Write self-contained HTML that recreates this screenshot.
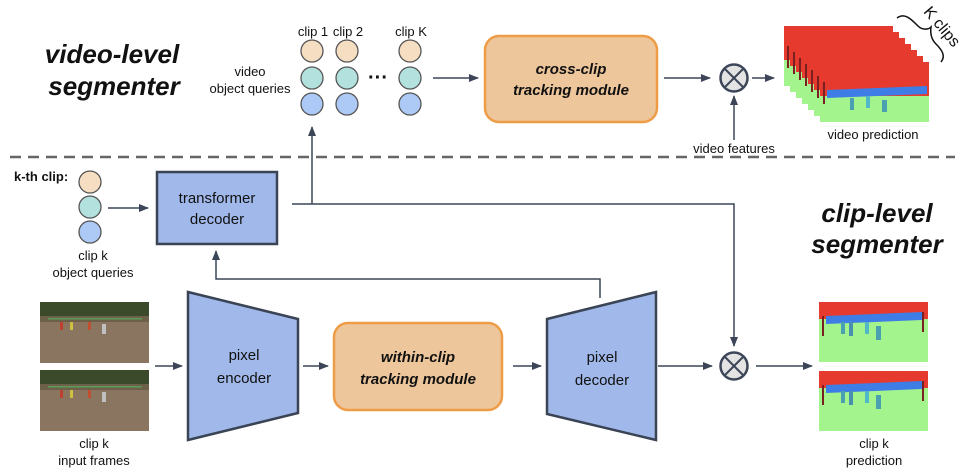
<!DOCTYPE html>
<html><head><meta charset="utf-8"><style>
html,body{margin:0;padding:0;background:#fff}
svg{display:block}
text{font-family:"Liberation Sans",sans-serif;fill:#111}
</style></head><body>
<svg width="970" height="476" viewBox="0 0 970 476" xmlns="http://www.w3.org/2000/svg">
<defs>
<marker id="a" markerWidth="10" markerHeight="8" refX="9" refY="4" orient="auto" markerUnits="userSpaceOnUse"><path d="M0,0 L10,4 L0,8 Z" fill="#3c4658"/></marker>
<g id="pred">
<rect x="0" y="0" width="109" height="60" fill="#a4f48e"/>
<rect x="0" y="0" width="109" height="17" fill="#e63a2e"/>
<path d="M7,14 L103,10 L103,18 L7,22 Z" fill="#3f7de6"/>
<rect x="3" y="14" width="2" height="20" fill="#7a2020"/>
<rect x="103" y="10" width="2" height="20" fill="#7a2020"/>
<rect x="22" y="20" width="4" height="12" fill="#4aa0b0"/>
<rect x="30" y="20" width="4" height="14" fill="#4a8fb0"/>
<rect x="46" y="20" width="4" height="12" fill="#50b8c8"/>
<rect x="57" y="24" width="5" height="14" fill="#4aa0b0"/>
</g>
<g id="vpred">
<rect x="0" y="0" width="109" height="60" fill="#a4f48e"/>
<rect x="0" y="0" width="109" height="34" fill="#e63a2e"/>
<path d="M7,28 L107,24 L107,32 L7,36 Z" fill="#3f7de6"/>
<rect x="3" y="20" width="2" height="22" fill="#7a2020"/>
<rect x="30" y="36" width="4" height="12" fill="#4aa0b0"/>
<rect x="46" y="34" width="4" height="12" fill="#50b8c8"/>
<rect x="62" y="38" width="5" height="12" fill="#4aa0b0"/>
</g>
<g id="photo">
<rect x="0" y="0" width="109" height="61" fill="#8a7560"/>
<rect x="0" y="0" width="109" height="14" fill="#3a4a2a"/>
<rect x="0" y="14" width="109" height="6" fill="#6d6048"/>
<rect x="8" y="16" width="94" height="1.5" fill="#5a9a5a"/>
<rect x="20" y="20" width="3" height="8" fill="#c04030"/>
<rect x="30" y="20" width="3" height="8" fill="#d0c040"/>
<rect x="48" y="20" width="3" height="8" fill="#c05030"/>
<rect x="62" y="22" width="4" height="10" fill="#c0c0c0"/>
</g>
</defs>

<text x="112" y="63" font-size="26" font-weight="bold" font-style="italic" text-anchor="middle">video-level</text>
<text x="114" y="95" font-size="26" font-weight="bold" font-style="italic" text-anchor="middle">segmenter</text>
<text x="877" y="222" font-size="26" font-weight="bold" font-style="italic" text-anchor="middle">clip-level</text>
<text x="877" y="253" font-size="26" font-weight="bold" font-style="italic" text-anchor="middle">segmenter</text>

<text x="250" y="76" font-size="13" text-anchor="middle">video</text>
<text x="250" y="93" font-size="13" text-anchor="middle">object queries</text>
<text x="313" y="36" font-size="13" text-anchor="middle">clip 1</text>
<text x="348" y="36" font-size="13" text-anchor="middle">clip 2</text>
<text x="411" y="36" font-size="13" text-anchor="middle">clip K</text>
<g stroke="#555" stroke-width="1.3">
<circle cx="312" cy="51" r="11" fill="#f6dec2"/><circle cx="312" cy="78" r="11" fill="#b3e2de"/><circle cx="312" cy="104" r="11" fill="#adc9f5"/>
<circle cx="347" cy="51" r="11" fill="#f6dec2"/><circle cx="347" cy="78" r="11" fill="#b3e2de"/><circle cx="347" cy="104" r="11" fill="#adc9f5"/>
<circle cx="410" cy="51" r="11" fill="#f6dec2"/><circle cx="410" cy="78" r="11" fill="#b3e2de"/><circle cx="410" cy="104" r="11" fill="#adc9f5"/>
</g>
<text x="378" y="84" font-size="20" font-weight="bold" text-anchor="middle">···</text>

<rect x="485" y="36" width="172" height="86" rx="14" fill="#edc69b" stroke="#ef9c47" stroke-width="2.5"/>
<text x="571" y="74" font-size="15" font-weight="bold" font-style="italic" text-anchor="middle">cross-clip</text>
<text x="571" y="95" font-size="15" font-weight="bold" font-style="italic" text-anchor="middle">tracking module</text>

<g stroke="#3c4658" stroke-width="1.5" fill="none">
<line x1="433" y1="78" x2="478" y2="78" marker-end="url(#a)"/>
<line x1="664" y1="78" x2="710" y2="78" marker-end="url(#a)"/>
<line x1="752" y1="78" x2="774" y2="78" marker-end="url(#a)"/>
<line x1="734" y1="140" x2="734" y2="96" marker-end="url(#a)"/>
</g>
<circle cx="734" cy="78" r="13.5" fill="#e3e3e3" stroke="#3c4658" stroke-width="2.5"/>
<path d="M724.5,68.5 L743.5,87.5 M743.5,68.5 L724.5,87.5" stroke="#3c4658" stroke-width="2"/>
<text x="734" y="153" font-size="13" text-anchor="middle">video features</text>

<use href="#vpred" x="784" y="26"/>
<use href="#vpred" x="790" y="32"/>
<use href="#vpred" x="796" y="38"/>
<use href="#vpred" x="802" y="44"/>
<use href="#vpred" x="808" y="50"/>
<use href="#vpred" x="814" y="56"/>
<use href="#vpred" x="820" y="62"/>
<text x="873" y="139" font-size="13" text-anchor="middle">video prediction</text>
<path d="M897,18 C905,12 912,20 918,26 C922,30 928,30 931,27 C930,34 932,40 936,44 C942,50 946,56 941,62" stroke="#111" stroke-width="1.5" fill="none"/>
<text x="938" y="30" font-size="16" text-anchor="middle" transform="rotate(50 938 30)">K clips</text>

<line x1="10" y1="157" x2="955" y2="157" stroke="#666" stroke-width="2.5" stroke-dasharray="11,7"/>

<text x="14" y="181" font-size="13" font-weight="bold">k-th clip:</text>
<g stroke="#555" stroke-width="1.3">
<circle cx="90" cy="182" r="11" fill="#f6dec2"/><circle cx="90" cy="207" r="11" fill="#b3e2de"/><circle cx="90" cy="232" r="11" fill="#adc9f5"/>
</g>
<text x="93" y="260" font-size="13" text-anchor="middle">clip k</text>
<text x="93" y="277" font-size="13" text-anchor="middle">object queries</text>

<rect x="157" y="172" width="120" height="72" fill="#a0b8ea" stroke="#3a4455" stroke-width="2.5"/>
<text x="217" y="203" font-size="15" text-anchor="middle">transformer</text>
<text x="217" y="224" font-size="15" text-anchor="middle">decoder</text>

<g stroke="#3c4658" stroke-width="1.5" fill="none">
<line x1="108" y1="208" x2="148" y2="208" marker-end="url(#a)"/>
<polyline points="292,204 734,204 734,346" marker-end="url(#a)"/>
<line x1="312" y1="204" x2="312" y2="127" marker-end="url(#a)"/>
<polyline points="600,298 600,279 216,279 216,251" marker-end="url(#a)"/>
<line x1="155" y1="366" x2="182" y2="366" marker-end="url(#a)"/>
<line x1="303" y1="366" x2="328" y2="366" marker-end="url(#a)"/>
<line x1="513" y1="366" x2="541" y2="366" marker-end="url(#a)"/>
<line x1="658" y1="366" x2="712" y2="366" marker-end="url(#a)"/>
<line x1="756" y1="366" x2="812" y2="366" marker-end="url(#a)"/>
</g>

<use href="#photo" x="40" y="302"/>
<use href="#photo" x="40" y="370"/>
<text x="94" y="448" font-size="13" text-anchor="middle">clip k</text>
<text x="94" y="465" font-size="13" text-anchor="middle">input frames</text>

<polygon points="188,292 298,319 298,413 188,440" fill="#a0b8ea" stroke="#3a4455" stroke-width="2.5"/>
<text x="244" y="360" font-size="15" text-anchor="middle">pixel</text>
<text x="244" y="383" font-size="15" text-anchor="middle">encoder</text>

<rect x="334" y="323" width="168" height="87" rx="14" fill="#edc69b" stroke="#ef9c47" stroke-width="2.5"/>
<text x="418" y="362" font-size="15" font-weight="bold" font-style="italic" text-anchor="middle">within-clip</text>
<text x="418" y="384" font-size="15" font-weight="bold" font-style="italic" text-anchor="middle">tracking module</text>

<polygon points="547,319 656,292 656,440 547,414" fill="#a0b8ea" stroke="#3a4455" stroke-width="2.5"/>
<text x="602" y="362" font-size="15" text-anchor="middle">pixel</text>
<text x="602" y="385" font-size="15" text-anchor="middle">decoder</text>

<circle cx="734" cy="366" r="13.5" fill="#e3e3e3" stroke="#3c4658" stroke-width="2.5"/>
<path d="M724.5,356.5 L743.5,375.5 M743.5,356.5 L724.5,375.5" stroke="#3c4658" stroke-width="2"/>

<use href="#pred" x="819" y="302"/>
<use href="#pred" x="819" y="371"/>
<text x="874" y="448" font-size="13" text-anchor="middle">clip k</text>
<text x="874" y="465" font-size="13" text-anchor="middle">prediction</text>
</svg>
</body></html>
